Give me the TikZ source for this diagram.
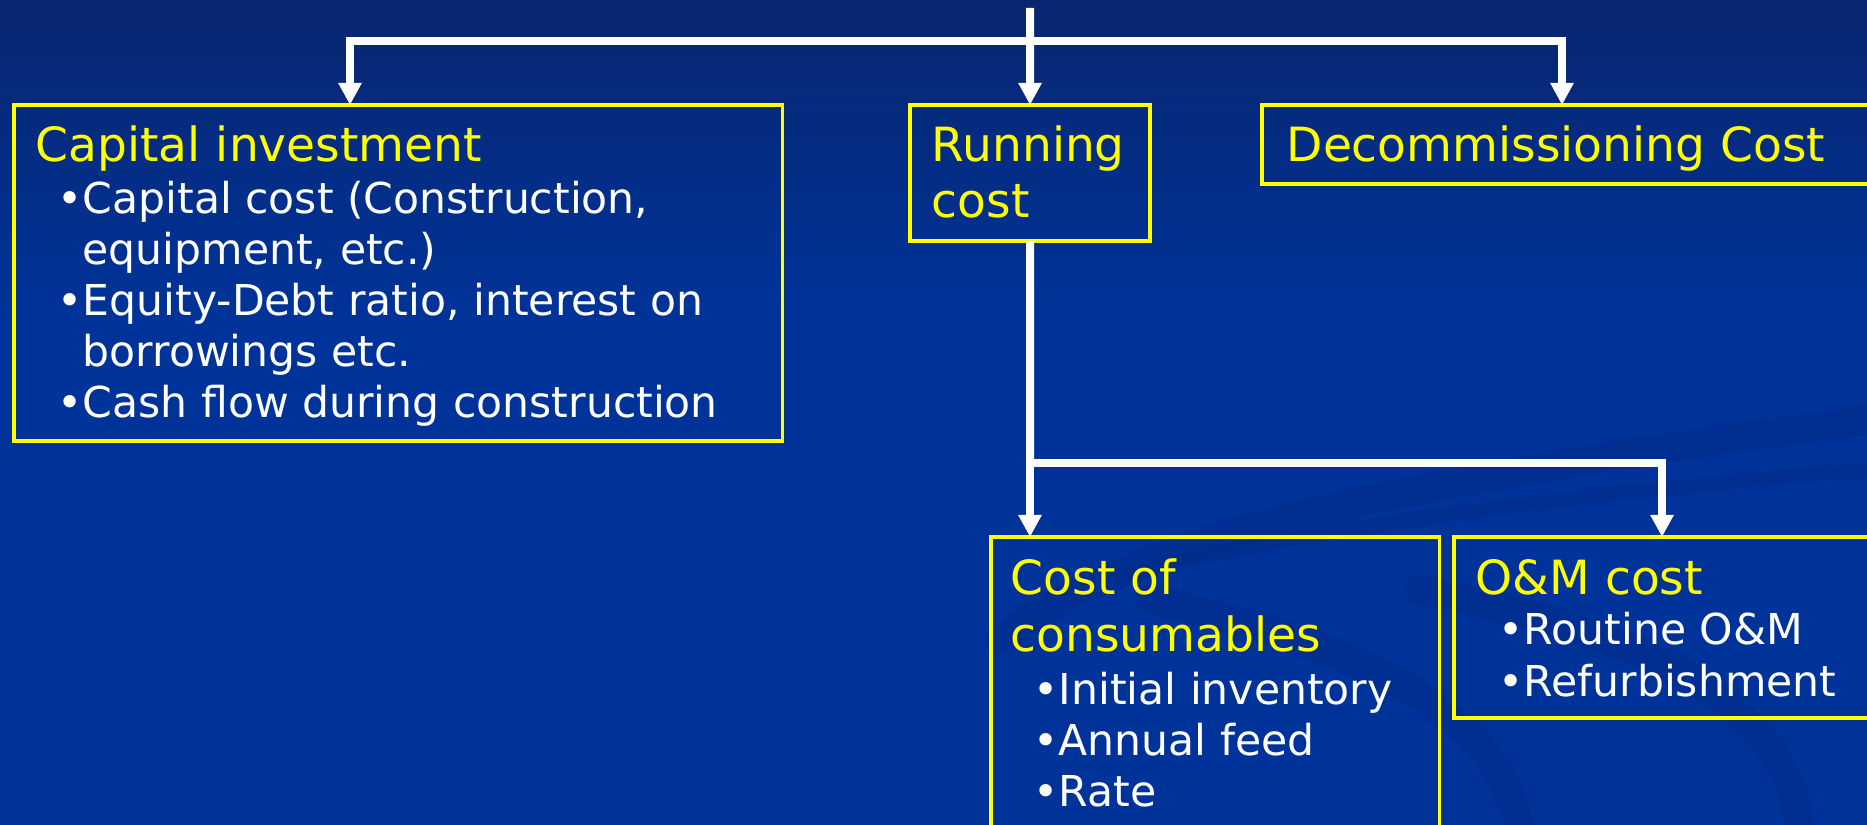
\documentclass[tikz,border=0pt]{standalone}
\usepackage{fontspec}
\setmainfont{DejaVu Sans}
\usetikzlibrary{arrows.meta,calc}
\definecolor{navytop}{RGB}{8,38,112}
\definecolor{slideblue}{RGB}{0,51,153}
\definecolor{swirl}{RGB}{0,34,118}
\definecolor{boxyellow}{RGB}{255,255,0}

\begin{document}
\begin{tikzpicture}[x=0.01cm, y=-0.01cm,
    >={Triangle[length=0.22cm, width=0.22cm]},
    box/.style={draw=boxyellow, line width=0.035cm, inner sep=0pt, outer sep=0pt, anchor=north west},
    head/.style={anchor=base west, inner sep=0pt, text=boxyellow, font=\fontsize{13.4}{16}\selectfont},
    item/.style={anchor=base west, inner sep=0pt, text=white, font=\fontsize{12.1}{14.5}\selectfont},
    wire/.style={draw=white, line width=0.08cm},
    conn/.style={wire, ->}]

    \useasboundingbox (0,0) rectangle (1867,825);
    \clip (0,0) rectangle (1867,825);

    % slide background
    \shade[top color=navytop, bottom color=slideblue] (0,0) rectangle (1867,320);
    \fill[slideblue] (0,319) rectangle (1867,825);
    \begin{scope}[swirl, line cap=round, opacity=0.22]
        \draw[line width=0.3cm] (1000,640) .. controls (1150,520) and (1500,470) .. (1867,420);
        \draw[line width=0.15cm] (1120,575) .. controls (1350,520) and (1620,490) .. (1867,470);
        \draw[line width=0.3cm] (1150,600) .. controls (1380,650) and (1500,720) .. (1520,830);
        \draw[line width=0.3cm] (1420,590) .. controls (1680,640) and (1790,720) .. (1800,830);
    \end{scope}

    % boxes
    \node[box, minimum width=7.68cm, minimum height=3.36cm] (capital) at (14,105) {};
    \node[box, minimum width=2.40cm, minimum height=1.36cm] (running) at (910,105) {};
    \node[box, minimum width=7.00cm, minimum height=0.79cm] (decom) at (1262,105) {};
    \node[box, minimum width=4.48cm, minimum height=3.40cm] (consum) at (991,537) {};
    \node[box, minimum width=5.00cm, minimum height=1.81cm] (om) at (1454,537) {};

    % texts
    \node[head] (capt) at (35,162) {Capital investment};
    \node[item] (cap1) at (57,214) {•Capital cost (Construction,};
    \node[item] (cap2) at (82,265) {equipment, etc.)};
    \node[item] (cap3) at (57,316) {•Equity-Debt ratio, interest on};
    \node[item] (cap4) at (82,367) {borrowings etc.};
    \node[item] (cap5) at (57,418) {•Cash flow during construction};

    \node[head] (runt1) at (931,162) {Running};
    \node[head] (runt2) at (931,218) {cost};

    \node[head] (dect) at (1286,162) {Decommissioning Cost};

    \node[head] (cont1) at (1010,594) {Cost of};
    \node[head] (cont2) at (1010,651) {consumables};
    \node[item] (con1) at (1033,704) {•Initial inventory};
    \node[item] (con2) at (1033,755) {•Annual feed};
    \node[item] (con3) at (1033,806) {•Rate};

    \node[head] (omt) at (1475,594) {O\&M cost};
    \node[item] (om1) at (1498,645) {•Routine O\&M};
    \node[item] (om2) at (1498,696) {•Refurbishment};

    % connectors
    \coordinate (feed) at (1030,8);
    \coordinate (bus) at (1030,41);
    \coordinate (split) at (1030,463);

    \draw[conn] (feed) -- (running);
    \draw[wire, <->] ($(capital.north west)+(336,0)$) |- (bus) -| ($(decom.north west)+(300,0)$);
    \draw[wire] (running) -- (split);
    \draw[conn] (split) -- (split |- consum.north);
    \draw[conn] (split) -| ($(om.north west)+(208,0)$);
\end{tikzpicture}
\end{document}
